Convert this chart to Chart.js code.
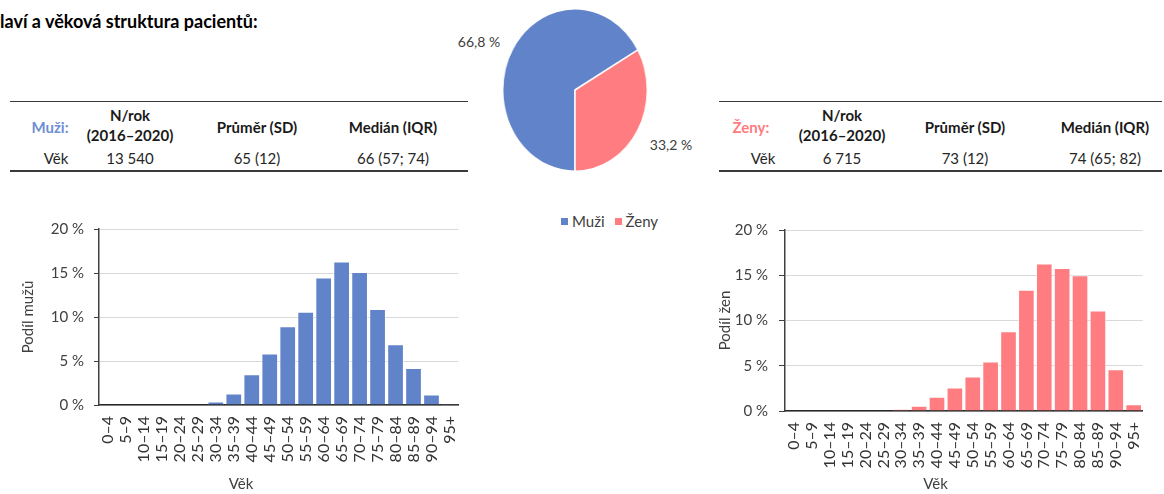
<!DOCTYPE html>
<html>
<head>
<meta charset="utf-8">
<script src="https://cdn.jsdelivr.net/npm/chart.js@4.4.1/dist/chart.umd.min.js"></script>
<style>
  html, body { margin: 0; padding: 0; }
  body { width: 1164px; height: 494px; position: relative; overflow: hidden; background: #fff; font-family: Lato, "Open Sans", sans-serif; color: #262626; }
  .abs { position: absolute; white-space: nowrap; }
  .title { left: 0; top: 10px; font-size: 18px; font-weight: bold; color: #000; }
  .line-top { position: absolute; height: 1px; background: #3a3a3a; }
  .line-bot { position: absolute; height: 2px; background: #3a3a3a; }
  .hdr { font-weight: bold; font-size: 15px; color: #1a1a1a; text-align: center; line-height: 20px; transform: translateX(-50%); }
  .val { font-size: 15px; color: #262626; text-align: center; line-height: 20px; transform: translateX(-50%); }
  .lbl { font-size: 15px; font-weight: bold; line-height: 20px; transform: translateX(-50%); }
  .pielbl { font-size: 14px; color: #404040; line-height: 18px; transform: translate(-50%, -50%); }
  .legend { font-size: 15px; color: #404040; line-height: 18px; display: flex; align-items: center; }
  .legend .sw { width: 7px; height: 7px; display: inline-block; margin-right: 4px; }
  .legend .it { display: flex; align-items: center; margin-right: 10px; }
  canvas { position: absolute; }
</style>
</head>
<body>
<div class="abs title">laví a věková struktura pacientů:</div>
<div id="tables"></div>
<canvas id="pie" width="164" height="164" style="left:493px; top:8px; width:164px; height:164px; transform: scaleX(0.89); transform-origin: 82px 82px;"></canvas>
<div id="pieLabels"></div>
<div id="legend" class="abs legend" style="left:561px; top:212px;"></div>
<canvas id="histMen" width="480" height="284" style="left:0px; top:210px; width:480px; height:284px;"></canvas>
<canvas id="histWomen" width="464" height="284" style="left:700px; top:210px; width:464px; height:284px;"></canvas>

<script>
// ---- DATA ----
const ageGroups = ['0–4','5–9','10–14','15–19','20–24','25–29','30–34','35–39','40–44','45–49','50–54','55–59','60–64','65–69','70–74','75–79','80–84','85–89','90–94','95+'];
const menShare   = [0,0,0,0,0,0,0.4,1.3,3.5,5.85,8.95,10.6,14.5,16.3,15.1,10.9,6.9,4.2,1.2,0.1];
const womenShare = [0,0,0,0,0,0,0.2,0.57,1.57,2.6,3.8,5.46,8.8,13.4,16.3,15.8,15.0,11.1,4.6,0.75];
const pieLabels = ['Muži','Ženy'];
const pieShares = [66.8, 33.2];
const yTickValues = [0,5,10,15,20];
const tableHeaders = ['N/rok\n(2016–2020)','Průměr (SD)','Medián (IQR)'];
const rowLabel = 'Věk';
const menStats = ['13 540','65 (12)','66 (57; 74)'];
const womenStats = ['6 715','73 (12)','74 (65; 82)'];

// ---- STYLE ----
const BLUE = '#6083C9';
const PINK = '#FF7C80';
const TXT = '#404040';
const FONT = 'Lato, "Open Sans", sans-serif';
Chart.defaults.font.family = FONT;
Chart.defaults.color = TXT;

// ---- TABLES ----
function buildTable(cfg) {
  const host = document.getElementById('tables');
  const add = (cls, style, text) => {
    const d = document.createElement('div');
    d.className = cls; d.setAttribute('style', style);
    d.textContent = text; host.appendChild(d);
    return d;
  };
  add('line-top', `left:${cfg.x0}px; width:${cfg.x1 - cfg.x0}px; top:101px;`, '');
  add('line-bot', `left:${cfg.x0}px; width:${cfg.x1 - cfg.x0}px; top:170px;`, '');
  add('abs lbl', `left:${cfg.labelX}px; top:117px; color:${cfg.color};`, cfg.label);
  tableHeaders.forEach((h, i) => {
    const lines = h.split('\n');
    const top = lines.length === 2 ? 105 : 117;
    const d = add('abs hdr', `left:${cfg.cols[i]}px; top:${top}px;`, '');
    d.innerHTML = lines.join('<br>');
  });
  add('abs val', `left:${cfg.rowX - 14}px; top:148px;`, rowLabel);
  cfg.stats.forEach((s, i) => add('abs val', `left:${cfg.cols[i]}px; top:148px;`, s));
}
buildTable({x0: 10, x1: 468, label: 'Muži:', color: '#6E8FD2', labelX: 50, rowX: 70, cols: [130, 257, 393], stats: menStats});
buildTable({x0: 719, x1: 1162, label: 'Ženy:', color: PINK, labelX: 751, rowX: 777, cols: [842, 965, 1105], stats: womenStats});

// ---- PIE ----
new Chart(document.getElementById('pie'), {
  type: 'pie',
  data: { labels: pieLabels, datasets: [{ data: pieShares, backgroundColor: [BLUE, PINK], borderColor: '#ffffff', borderWidth: 1.5 }] },
  options: {
    responsive: false, animation: false, rotation: 180,
    layout: { padding: 0 },
    plugins: { legend: { display: false }, tooltip: { enabled: false } }
  }
});
const fmtPct = v => v.toFixed(1).replace('.', ',') + ' %';
const pieLabelPos = [[479, 42], [671, 145]];
const pl = document.getElementById('pieLabels');
pieShares.forEach((v, i) => {
  const d = document.createElement('div');
  d.className = 'abs pielbl';
  d.style.left = pieLabelPos[i][0] + 'px';
  d.style.top = pieLabelPos[i][1] + 'px';
  d.textContent = fmtPct(v);
  pl.appendChild(d);
});
const lg = document.getElementById('legend');
pieLabels.forEach((l, i) => {
  const it = document.createElement('span');
  it.className = 'it';
  it.innerHTML = `<span class="sw" style="background:${[BLUE, PINK][i]}"></span>${l}`;
  lg.appendChild(it);
});

// ---- HISTOGRAMS ----
function makeHist(id, data, color, yTitle, g) {
  return new Chart(document.getElementById(id), {
    type: 'bar',
    data: { labels: ageGroups, datasets: [{ data, backgroundColor: color, borderColor: 'rgba(255,255,255,0.55)', borderWidth: 1, barPercentage: 0.93, categoryPercentage: 1 }] },
    options: {
      responsive: false, animation: false,
      layout: { padding: { left: g.padL, right: g.padR, top: g.padT, bottom: 0 } },
      plugins: {
        legend: { display: false }, tooltip: { enabled: false },
        title: { display: true, position: 'bottom', text: 'Věk', color: TXT, font: { size: 15, weight: 'normal', family: FONT }, padding: { top: 2, bottom: 1 } }
      },
      scales: {
        x: {
          grid: { display: false, drawTicks: false },
          border: { display: true, color: '#262626', width: 1.5 },
          ticks: { autoSkip: false, maxRotation: 90, minRotation: 90, padding: 11, color: '#333', font: { size: 16, family: FONT } },
          afterFit: s => { s.height = g.xH; }
        },
        y: {
          min: 0, max: 20,
          afterBuildTicks: s => { s.ticks = yTickValues.map(v => ({ value: v })); },
          grid: { color: '#d9d9d9', lineWidth: 1, tickColor: '#404040', tickLength: g.tick },
          border: { display: true, color: '#404040', width: 1.5 },
          ticks: { padding: g.tpad, color: TXT, font: { size: 15, family: FONT }, callback: v => v + ' %' },
          title: { display: true, text: yTitle, color: TXT, font: { size: 15, family: FONT }, padding: { top: 4, bottom: 4 } },
          afterFit: s => { s.width = g.yW; }
        }
      }
    }
  });
}
makeHist('histMen', menShare, BLUE, 'Podíl mužů', { padL: 15, padR: 13, padT: 14, xH: 68, yW: 84, tick: 5, tpad: 10 });
makeHist('histWomen', womenShare, PINK, 'Podíl žen', { padL: 12, padR: 5, padT: 15, xH: 62, yW: 73, tick: 6, tpad: 11 });
</script>
</body>
</html>
